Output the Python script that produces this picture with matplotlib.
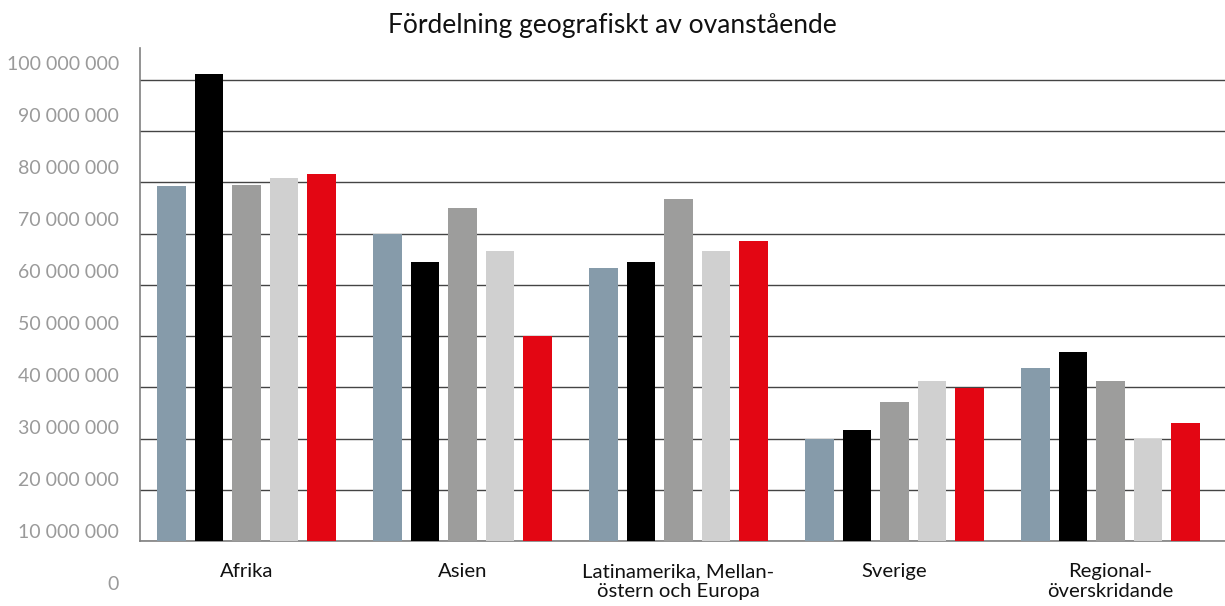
import matplotlib
matplotlib.use("Agg")
from matplotlib import pyplot as plt
import numpy as np

plt.rcParams['font.family'] = ['Lato', 'DejaVu Sans']

categories = ["Afrika", "Asien", "Latinamerika, Mellan-\nöstern och Europa",
              "Sverige", "Regional-\növerskridande"]

# five series per region (kronor)
serie_1 = [79.4e6, 70.0e6, 63.3e6, 30.0e6, 43.8e6]
serie_2 = [101.2e6, 64.4e6, 64.4e6, 31.7e6, 46.9e6]
serie_3 = [79.6e6, 75.1e6, 76.7e6, 37.2e6, 41.3e6]
serie_4 = [80.8e6, 66.7e6, 66.7e6, 41.3e6, 30.0e6]
serie_5 = [81.6e6, 50.0e6, 68.5e6, 39.8e6, 33.0e6]

series = [serie_1, serie_2, serie_3, serie_4, serie_5]
colors = ["#869baa", "#000000", "#9d9d9c", "#d0d0d0", "#e30613"]

grid_values = np.arange(10e6, 100e6 + 1, 10e6)
label_values = np.arange(0, 100e6 + 1, 10e6)


def fmt(v):
    return "{:,}".format(int(v)).replace(",", " ")


fig = plt.figure(figsize=(12.25, 6.06), dpi=100)

# main axes with the bars and the grid
ax = fig.add_axes([140 / 1225, 65 / 606, 1085 / 1225, 493 / 606])
x = np.arange(len(categories))
step = 0.1736
width = 0.134
for i, (vals, c) in enumerate(zip(series, colors)):
    ax.bar(x + (i - 2) * step, vals, width=width, color=c, zorder=3)

ax.set_xlim(-0.493, 4.53)
ax.set_ylim(10e6, 106.25e6)
ax.set_yticks(grid_values)
ax.yaxis.grid(True, color="#444444", linewidth=1.0, zorder=0)
ax.tick_params(axis="y", length=0, labelleft=False)
ax.set_xticks(x)
ax.set_xticklabels(categories, fontsize=14.6, color="#111111", linespacing=1.2)
ax.tick_params(axis="x", length=0, pad=16)
for s in ["top", "right"]:
    ax.spines[s].set_visible(False)
ax.spines["left"].set_color("#808080")
ax.spines["bottom"].set_color("#808080")
ax.spines["left"].set_linewidth(1.2)
ax.spines["bottom"].set_linewidth(1.2)

# value labels on their own scale on the left side
lab = fig.add_axes([140 / 1225, 23 / 606, 1085 / 1225, 520 / 606])
lab.patch.set_visible(False)
lab.set_ylim(0, 100e6)
lab.set_yticks(label_values)
lab.set_yticklabels([fmt(v) for v in label_values], fontsize=14, color="#9a9a9a")
lab.tick_params(axis="y", length=0, pad=15)
lab.set_xticks([])
for s in lab.spines.values():
    s.set_visible(False)

fig.text(0.5, 0.958, "Fördelning geografiskt av ovanstående",
         ha="center", va="center", fontsize=19, color="#111111")

fig.savefig("out.png", dpi=100)
